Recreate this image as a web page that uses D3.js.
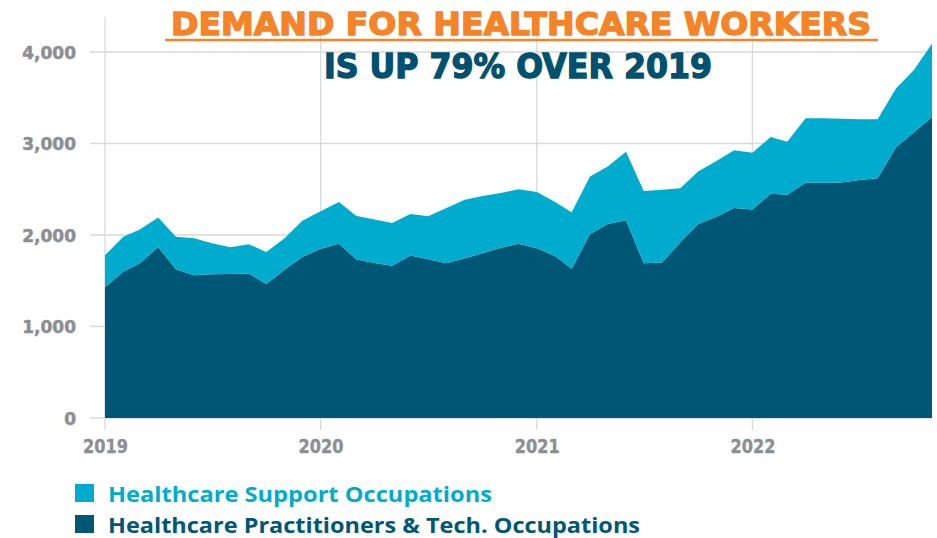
<!DOCTYPE html>
<html>
<head>
<meta charset="utf-8">
<script src="https://cdn.jsdelivr.net/npm/d3@7"></script>
<style>
    body { margin: 0; background: #fff; }
    #chart-area svg { display: block; }
</style>
</head>
<body>
<div id="chart-area"></div>
<script>

// monthly postings, Jan 2019 - Nov 2022
const months = [
    "2019-01","2019-02","2019-03","2019-04","2019-05","2019-06","2019-07","2019-08","2019-09","2019-10","2019-11","2019-12",
    "2020-01","2020-02","2020-03","2020-04","2020-05","2020-06","2020-07","2020-08","2020-09","2020-10","2020-11","2020-12",
    "2021-01","2021-02","2021-03","2021-04","2021-05","2021-06","2021-07","2021-08","2021-09","2021-10","2021-11","2021-12",
    "2022-01","2022-02","2022-03","2022-04","2022-05","2022-06","2022-07","2022-08","2022-09","2022-10","2022-11"
];

const practitioners = [
    1430, 1600, 1690, 1870, 1625, 1560, 1570, 1575, 1580, 1465, 1620, 1760,
    1850, 1905, 1735, 1695, 1665, 1775, 1735, 1690, 1745, 1800, 1860, 1905,
    1855, 1770, 1630, 2010, 2120, 2160, 1690, 1700, 1920, 2120, 2200, 2295,
    2280, 2450, 2440, 2570, 2570, 2575, 2600, 2620, 2960, 3120, 3290
];

const support = [
    350, 380, 370, 320, 355, 405, 340, 290, 320, 350, 345, 395,
    410, 455, 475, 475, 465, 455, 470, 605, 640, 625, 600, 595,
    615, 590, 620, 630, 630, 750, 790, 795, 590, 575, 610, 630,
    620, 620, 580, 705, 705, 695, 665, 645, 640, 680, 800
];

const seriesKeys   = ["practitioners", "support"];
const seriesLabels = ["Healthcare Support Occupations", "Healthcare Practitioners & Tech. Occupations"];
const yTicks = [0, 1000, 2000, 3000, 4000];
const xTicks = ["2019-01", "2020-01", "2021-01", "2022-01"];

const titleLine1 = "DEMAND FOR HEALTHCARE WORKERS";
const titleLine2 = "IS UP 79% OVER 2019";


class StackedAreaChart {
    constructor(_parentElement) {
        this.parentElement = _parentElement;
        this.initVis();
    }

    initVis() {
        let vis = this;

        vis.margin = { top: 52, right: 5, bottom: 120, left: 105 };
        vis.width  = 937 - vis.margin.left - vis.margin.right;
        vis.height = 538 - vis.margin.top  - vis.margin.bottom;

        vis.colors = { practitioners: "#005775", support: "#00accd" };
        vis.grid = "#d8d9da";
        vis.labelColor = "#8b8e92";

        vis.root = d3.select("#" + vis.parentElement).append("svg")
            .attr("width", 937)
            .attr("height", 538);

        vis.svg = vis.root.append("g")
            .attr("transform", `translate(${vis.margin.left},${vis.margin.top})`);

        let parse = d3.timeParse("%Y-%m");
        vis.data = months.map((m, i) => ({
            date: parse(m),
            practitioners: practitioners[i],
            support: support[i]
        }));

        vis.x = d3.scaleTime()
            .domain(d3.extent(vis.data, d => d.date))
            .range([0, vis.width]);

        vis.y = d3.scaleLinear()
            .domain([0, 4000])
            .range([vis.height, 0]);

        // horizontal grid (starts at the tick marks, left of the plot)
        vis.svg.append("g")
            .selectAll("line")
            .data(yTicks)
            .join("line")
            .attr("x1", -15)
            .attr("x2", vis.width)
            .attr("y1", d => vis.y(d))
            .attr("y2", d => vis.y(d))
            .attr("stroke", vis.grid)
            .attr("stroke-width", 1.3);

        // vertical grid at each year
        vis.svg.append("g")
            .selectAll("line")
            .data(xTicks.map(parse))
            .join("line")
            .attr("x1", d => vis.x(d))
            .attr("x2", d => vis.x(d))
            .attr("y1", -35)
            .attr("y2", vis.height + 12)
            .attr("stroke", vis.grid)
            .attr("stroke-width", 1.3);

        // stacked areas
        vis.stack = d3.stack().keys(seriesKeys);
        vis.area = d3.area()
            .x(d => vis.x(d.data.date))
            .y0(d => vis.y(d[0]))
            .y1(d => vis.y(d[1]));

        vis.svg.selectAll(".layer")
            .data(vis.stack(vis.data))
            .join("path")
            .attr("class", "layer")
            .attr("fill", d => vis.colors[d.key])
            .attr("d", vis.area);

        // axes
        let yAxis = d3.axisLeft(vis.y)
            .tickValues(yTicks)
            .tickFormat(d3.format(","))
            .tickSize(0)
            .tickPadding(29);

        vis.svg.append("g")
            .attr("class", "axis y-axis")
            .call(yAxis)
            .call(g => g.select(".domain").remove())
            .selectAll("text")
            .attr("dy", "0.36em")
            .style("font-family", "'DejaVu Sans', sans-serif")
            .style("font-weight", "bold")
            .style("font-size", "17px")
            .style("fill", vis.labelColor)
            .style("stroke", vis.labelColor)
            .style("stroke-width", 0.5);

        let xAxis = d3.axisBottom(vis.x)
            .tickValues(xTicks.map(parse))
            .tickFormat(d3.timeFormat("%Y"))
            .tickSize(0)
            .tickPadding(21);

        vis.svg.append("g")
            .attr("class", "axis x-axis")
            .attr("transform", `translate(0, ${vis.height})`)
            .call(xAxis)
            .call(g => g.select(".domain").remove())
            .selectAll("text")
            .attr("dy", "0.71em")
            .attr("textLength", 45)
            .attr("lengthAdjust", "spacingAndGlyphs")
            .style("font-family", "'DejaVu Sans', sans-serif")
            .style("font-weight", "bold")
            .style("font-size", "20px")
            .style("fill", vis.labelColor)
            .style("stroke", vis.labelColor)
            .style("stroke-width", 0.4);

        // title
        vis.root.append("text")
            .attr("x", 521)
            .attr("y", 35)
            .attr("text-anchor", "middle")
            .attr("textLength", 700)
            .attr("lengthAdjust", "spacingAndGlyphs")
            .style("font-family", "'DejaVu Sans', sans-serif")
            .style("font-weight", "bold")
            .style("font-size", "32px")
            .style("fill", "#f58428")
            .style("stroke", "#f58428")
            .style("stroke-width", 1.4)
            .text(titleLine1);

        vis.root.append("line")
            .attr("x1", 165)
            .attr("x2", 878)
            .attr("y1", 40)
            .attr("y2", 40)
            .attr("stroke", "#f58428")
            .attr("stroke-width", 2.5);

        vis.root.append("text")
            .attr("x", 518)
            .attr("y", 78)
            .attr("text-anchor", "middle")
            .attr("textLength", 388)
            .attr("lengthAdjust", "spacingAndGlyphs")
            .style("font-family", "'DejaVu Sans', sans-serif")
            .style("font-weight", "bold")
            .style("font-size", "34px")
            .style("fill", "#00516f")
            .style("stroke", "#00516f")
            .style("stroke-width", 1.4)
            .text(titleLine2);

        // legend
        let legendItems = [
            { key: "support", label: seriesLabels[0], len: 384 },
            { key: "practitioners", label: seriesLabels[1], len: 532 }
        ];

        let legend = vis.root.append("g")
            .attr("class", "legend")
            .selectAll("g")
            .data(legendItems)
            .join("g")
            .attr("transform", (d, i) => `translate(75, ${484 + i * 31})`);

        legend.append("rect")
            .attr("width", 19)
            .attr("height", 18)
            .attr("fill", d => vis.colors[d.key]);

        legend.append("text")
            .attr("x", 33)
            .attr("y", 17.5)
            .attr("textLength", d => d.len)
            .attr("lengthAdjust", "spacingAndGlyphs")
            .style("font-family", "'Open Sans', sans-serif")
            .style("font-weight", 700)
            .style("font-size", "22px")
            .style("fill", d => vis.colors[d.key])
            .text(d => d.label);
    }
}

let chart = new StackedAreaChart("chart-area");

</script>
</body>
</html>
